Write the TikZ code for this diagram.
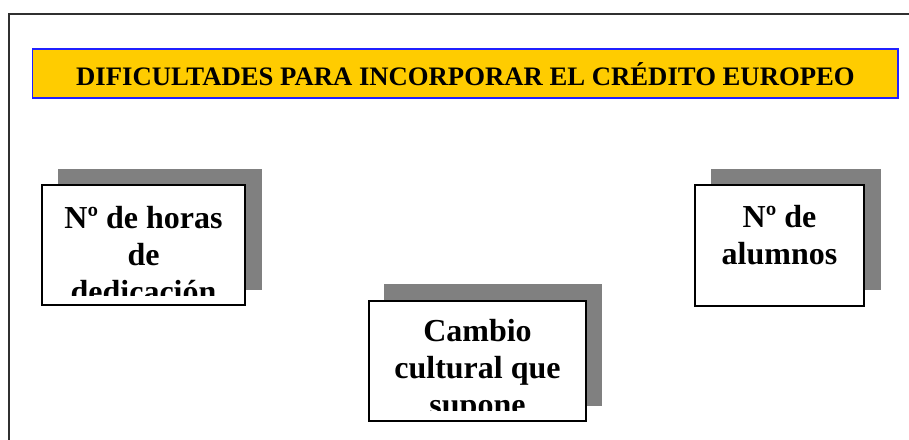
\documentclass[tikz,border=0pt]{standalone}
\usepackage{fontspec}
\setmainfont{Liberation Serif}
\definecolor{shadowgray}{HTML}{808080}
\definecolor{titlegold}{HTML}{FFCC00}
\definecolor{titleblue}{HTML}{2020FF}
\definecolor{framegray}{HTML}{303030}
\begin{document}
\begin{tikzpicture}[x=1pt,y=-1pt,
  shadowbox/.style={fill=shadowgray, draw=none, inner sep=0pt, outer sep=0pt},
  whitebox/.style={fill=white, draw=black, line width=1.5pt, inner sep=0pt, outer sep=0pt},
  titlebar/.style={fill=titlegold, draw=titleblue, line width=1.3pt, inner sep=0pt, outer sep=0pt},
  boxtext/.style={anchor=base, inner sep=0pt, font=\bfseries\fontsize{32}{37}\selectfont},
  titletext/.style={anchor=base, inner sep=0pt, font=\bfseries\fontsize{26.7}{30}\selectfont}]
\useasboundingbox (0,0) rectangle (909,439);
% outer frame
\draw[framegray, line width=1.5pt] (9,440) -- (9,14) -- (910,14);
% title
\node[titlebar, minimum width=865.5pt, minimum height=49pt] (title) at (465.25,73.5) {};
\node[titletext] (titlelabel) at (465.5,85.7) {DIFICULTADES PARA INCORPORAR EL CRÉDITO EUROPEO};
% left box
\node[shadowbox, minimum width=204pt, minimum height=121pt] (s1) at (160,229.5) {};
\node[whitebox, minimum width=203pt, minimum height=120pt] (b1) at (143.5,245) {};
\begin{scope}
\clip (42,185) rectangle (245,295);
\node[boxtext] (t1) at (143.5,228) {\parbox[t]{200pt}{\centering Nº de horas\\de\\dedicación}};
\end{scope}
% middle box
\node[shadowbox, minimum width=218pt, minimum height=122pt] (s2) at (493,345) {};
\node[whitebox, minimum width=217pt, minimum height=120pt] (b2) at (477.5,361) {};
\begin{scope}
\clip (369,301) rectangle (586,410);
\node[boxtext] (t2) at (477.5,341) {\parbox[t]{214pt}{\centering Cambio\\cultural que\\supone}};
\end{scope}
% right box
\node[shadowbox, minimum width=170pt, minimum height=121pt] (s3) at (796,229.5) {};
\node[whitebox, minimum width=169pt, minimum height=121pt] (b3) at (779.5,245.5) {};
\node[boxtext] (t3) at (779.5,227) {\parbox[t]{166pt}{\centering Nº de\\alumnos}};
\end{tikzpicture}
\end{document}
